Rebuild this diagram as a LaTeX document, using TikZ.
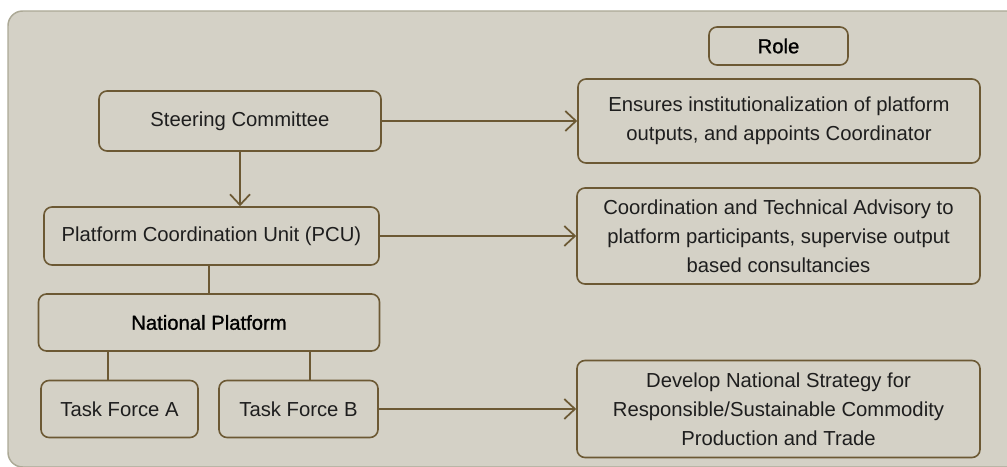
\documentclass[tikz,border=0pt]{standalone}
\usepackage{fontspec}
\setmainfont{Liberation Sans}
\newfontface\semibf[FakeBold=1]{Liberation Sans}
\usepackage{tikz}
\usetikzlibrary{shapes,arrows,fit, positioning, arrows.meta}
\usetikzlibrary{backgrounds}

\definecolor{panelfill}{RGB}{212,209,198}
\definecolor{panelline}{RGB}{172,169,150}
\definecolor{boxline}{RGB}{108,89,52}
\definecolor{txt}{RGB}{30,30,30}

\begin{document}
\begin{tikzpicture}[
    % GLOBAL CFG
    x=0.75pt, y=-0.75pt,
    font=\fontsize{15.2}{21.7}\selectfont,
    >={Straight Barb[length=8pt,width=15pt]},
    % Styles
    panel/.style={% For the grey background
        rectangle,
        rounded corners=11pt,
        draw=panelline,
        fill=panelfill,
        line width=1.1pt,
        },
    unit/.style={% For the bodies on the left
        rectangle,
        rounded corners=6pt,
        draw=boxline,
        line width=1.2pt,
        text=txt,
        align=center,
        inner sep=2pt,
        },
    role/.style={% For the role texts on the right
        unit,
        },
    Link/.style={% Plain connectors
        draw=boxline,
        line width=1.3pt,
        },
    ArrowC1/.style={% Arrows to the roles
        Link,
        ->,
        }
    ]

%Start drawing the thing...
    \useasboundingbox (0,0) rectangle (1007,467);
    % Draw the panel:
    \path [panel] (8,11) rectangle (1030,467);

    % Draw the bodies named sc, pcu, np, tf#
    \node [unit, minimum width=211.5pt, minimum height=45pt] (sc) at (240,121) {Steering Committee};
    \node [unit, minimum width=251.25pt, minimum height=43.5pt] (pcu) at (211.5,236) {Platform Coordination Unit (PCU)};
    \node [unit, minimum width=255.75pt, minimum height=42.75pt, text=black] (np) at (209,322.5) {\semibf National Platform};
    \node [unit, minimum width=117.75pt, minimum height=42.75pt] (tfa) at (119.5,409) {Task Force A};
    \node [unit, minimum width=119.25pt, minimum height=42.75pt] (tfb) at (298.5,409) {Task Force B};

    % Draw the roles named role, r#
    \node [role, minimum width=104.25pt, minimum height=28.5pt, text=black] (role) at (778.5,46) {\semibf Role};
    \node [role, minimum width=301.5pt, minimum height=63pt] (r1) at (779,121) {Ensures institutionalization of platform\\outputs, and appoints Coordinator};
    \node [role, minimum width=302.25pt, minimum height=72pt] (r2) at (778.5,236) {Coordination and Technical Advisory to\\platform participants, supervise output\\based consultancies};
    \node [role, minimum width=302.25pt, minimum height=72.75pt] (r3) at (778.5,409) {Develop National Strategy for\\Responsible/Sustainable Commodity\\Production and Trade};

% Start connecting all.
    % Hierarchy
    \draw [ArrowC1] (sc.south) -- (sc.south |- pcu.north);
    \draw [Link] (pcu.south -| np) -- (np.north);
    \draw [Link] ([xshift=-8.6pt]tfa.north) -- ([xshift=-8.6pt]tfa.north |- np.south);
    \draw [Link] ([xshift=8.6pt]tfb.north) -- ([xshift=8.6pt]tfb.north |- np.south);

    % Roles
    \draw [ArrowC1] (sc) -- (r1);
    \draw [ArrowC1] (pcu) -- (pcu -| r2.west);
    \draw [ArrowC1] (tfb) -- (r3);

\end{tikzpicture}
\end{document}
